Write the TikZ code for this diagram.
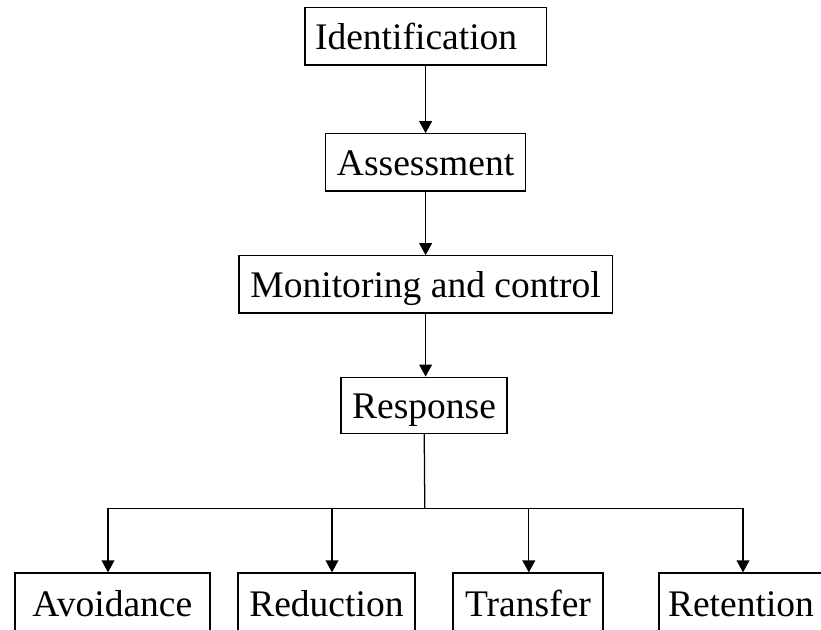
\documentclass[tikz,border=0pt]{standalone}
\usepackage{fontspec}
\setmainfont{Liberation Serif}
\usetikzlibrary{arrows.meta, positioning}
\tikzset{
  stage/.style={draw, line width=0.9pt, minimum height=1.43cm, inner sep=0pt,
    text height=23pt, text depth=3.7pt, font=\fontsize{26.7}{30}\selectfont},
  flow/.style={line width=0.9pt, -{Triangle[length=0.3cm, width=0.32cm]}},
  bus/.style={line width=0.9pt}
}
\begin{document}
\begin{tikzpicture}
\useasboundingbox (0,0) rectangle (20.525,-15.725);
\clip (0,0) rectangle (20.525,-15.725);

\node[stage, minimum width=6.03cm, text width=5.53cm, align=left, inner xsep=0.25cm] (ident) at (10.64,-0.91) {Identification};
\node[stage, minimum width=5cm] (assess) at (10.64,-4.06) {Assessment};
\node[stage, minimum width=9.33cm] (monit) at (10.64,-7.11) {Monitoring and control};
\node[stage, minimum width=4.15cm, minimum height=1.4cm] (resp) at (10.6,-10.13) {Response};

\node[stage, minimum width=4.875cm, minimum height=1.5cm] (avoid) at (2.81,-15.075) {Avoidance};
\node[stage, minimum width=4.425cm, minimum height=1.5cm] (reduc) at (8.16,-15.075) {Reduction};
\node[stage, minimum width=3.75cm, minimum height=1.5cm] (trans) at (13.2,-15.075) {Transfer};
\node[stage, minimum width=4.1cm, minimum height=1.5cm] (reten) at (18.525,-15.075) {Retention};

\draw[flow] (ident) -- (ident |- assess.north);
\draw[flow] (assess.south -| ident) -- (ident |- monit.north);
\draw[flow] (monit.south -| ident) -- (ident |- resp.north);

\coordinate (hub) at (10.62,-12.71);
\coordinate (b1) at (2.7,-12.71);
\coordinate (b2) at (8.3,-12.71);
\coordinate (b3) at (13.22,-12.71);
\coordinate (b4) at (18.575,-12.71);

\draw[bus] (resp) -- (hub);
\draw[bus] (b1) -- (b4);
\draw[flow] (b1) -- (b1 |- avoid.north);
\draw[flow] (b2) -- (b2 |- reduc.north);
\draw[flow] (b3) -- (b3 |- trans.north);
\draw[flow] (b4) -- (b4 |- reten.north);
\end{tikzpicture}
\end{document}
